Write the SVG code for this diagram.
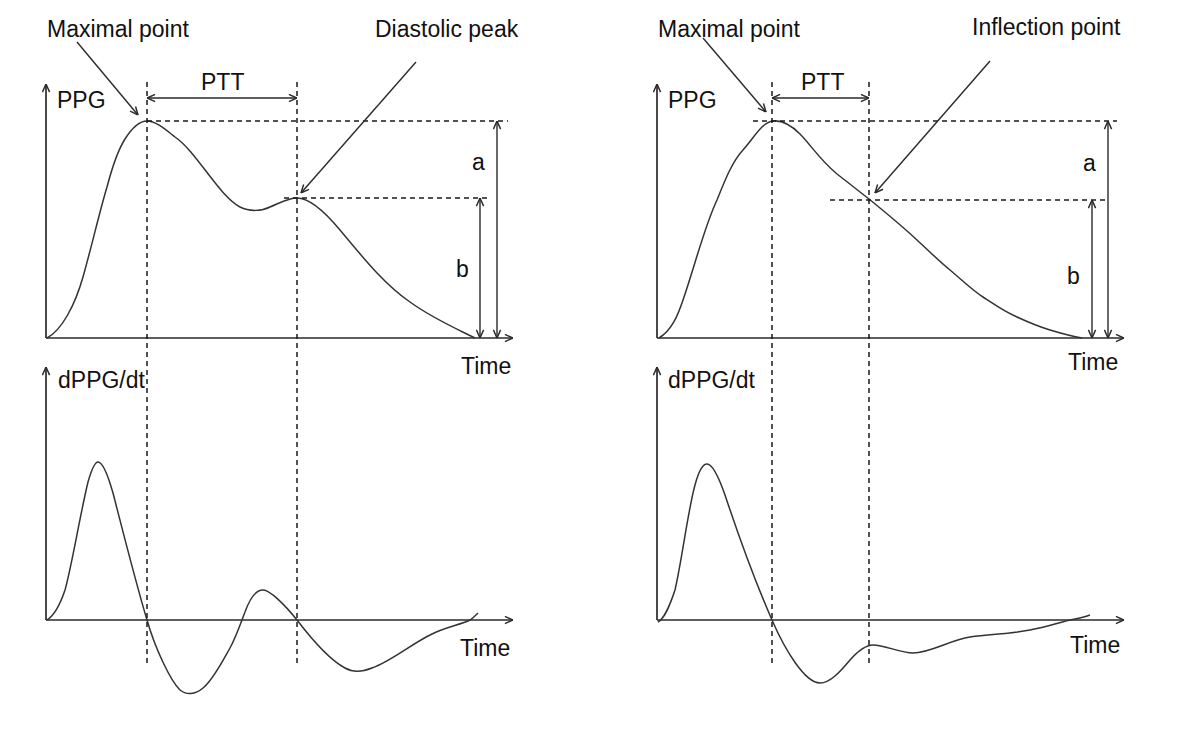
<svg xmlns="http://www.w3.org/2000/svg" width="1180" height="730" viewBox="0 0 1180 730">
<style>
text{font-family:"Liberation Sans",Arial,sans-serif;font-size:23px;fill:#111}
.ax{stroke:#2a2a2a;stroke-width:1.7;fill:none}
.dash{stroke:#1a1a1a;stroke-width:1.5;stroke-dasharray:5,4;fill:none}
.curve{stroke:#333;stroke-width:1.5;fill:none}
.arr{stroke:#2a2a2a;stroke-width:1.4;fill:none}
</style>
<defs>
<marker id="ah" viewBox="0 0 10 10" refX="10" refY="5" markerWidth="9" markerHeight="9" markerUnits="userSpaceOnUse" orient="auto-start-reverse">
<path d="M1,1 L10,5 L1,9" fill="none" stroke="#2a2a2a" stroke-width="1.6"/>
</marker>
</defs>
<rect width="1180" height="730" fill="#fff"/>

<g id="left-ppg">
<line class="ax" x1="46" y1="338" x2="46" y2="84" marker-end="url(#ah)"/>
<line class="ax" x1="46" y1="338" x2="513" y2="338" marker-end="url(#ah)"/>
<text x="57" y="108">PPG</text>
<text x="461" y="374">Time</text>
<path class="curve" d="M47,338 C62,330 75,305 83,277 C92,245 100,210 107,187 C112,168 118,150 125,139 C132,128 139,121 147,121 C156,121 166,130 175,137 C197,152 218,195 240,207 C250,212 262,211 270,207 C280,203 288,198 297,198 C310,198 325,212 340,230 C365,260 385,285 410,302 C432,318 455,328 475,338"/>
<line class="dash" x1="147" y1="121" x2="508" y2="121"/>
<line class="dash" x1="284" y1="198" x2="488" y2="198"/>
<text x="472" y="170">a</text>
<text x="456" y="277">b</text>
</g>

<g id="left-dppg">
<line class="ax" x1="46" y1="620" x2="46" y2="367" marker-end="url(#ah)"/>
<line class="ax" x1="46" y1="620" x2="513" y2="620" marker-end="url(#ah)"/>
<text x="58" y="388">dPPG/dt</text>
<text x="460" y="656">Time</text>
<path class="curve" d="M47,620 C55,615 60,605 65,590 C72,565 80,515 88,482 C92,468 95,462 98,462 C102,462 107,472 113,493 C120,520 135,580 147,620 C155,648 170,680 180,690 C186,695 195,695 203,688 C213,680 222,662 230,648 C236,637 240,625 245,612 C250,598 256,590 263,590 C270,590 285,605 297,620 C310,637 330,660 345,668 C352,672 362,672 372,668 C390,662 410,645 430,635 C445,627 460,625 470,620 C473,618 475,616 478,613"/>
</g>

<g id="left-annotations">
<line class="dash" x1="147" y1="82" x2="147" y2="666"/>
<line class="dash" x1="297" y1="82" x2="297" y2="666"/>
<line class="arr" x1="147" y1="98" x2="297" y2="98" marker-start="url(#ah)" marker-end="url(#ah)"/>
<text x="201" y="90">PTT</text>
<text x="47" y="37">Maximal point</text>
<text x="375" y="37">Diastolic peak</text>
</g>

<g id="right-ppg">
<line class="ax" x1="657" y1="338" x2="657" y2="84" marker-end="url(#ah)"/>
<line class="ax" x1="657" y1="338" x2="1124" y2="338" marker-end="url(#ah)"/>
<text x="668" y="108">PPG</text>
<text x="1068" y="370">Time</text>
<path class="curve" d="M659,338 C672,330 678,315 683,300 C695,265 705,225 717,200 C725,180 732,162 743,150 C754,138 762,122 773,121 C782,120 790,124 800,134 C810,144 820,160 837,174 C850,184 860,192 869,199 C885,212 902,226 917,240 C930,252 940,262 950,270 C962,280 972,290 983,297 C995,305 1005,312 1017,317 C1030,323 1040,327 1050,330 C1060,333 1070,336 1082,338"/>
<line class="dash" x1="753" y1="121" x2="1117" y2="121"/>
<line class="dash" x1="830" y1="200" x2="1105" y2="200"/>
<text x="1083" y="171">a</text>
<text x="1067" y="284">b</text>
</g>

<g id="right-dppg">
<line class="ax" x1="657" y1="620" x2="657" y2="367" marker-end="url(#ah)"/>
<line class="ax" x1="657" y1="620" x2="1124" y2="620" marker-end="url(#ah)"/>
<text x="668" y="388">dPPG/dt</text>
<text x="1070" y="653">Time</text>
<path class="curve" d="M658,622 C665,618 670,605 675,590 C682,560 688,510 695,485 C699,470 703,464 707,464 C712,464 718,475 725,495 C735,525 750,570 772,620 C785,650 805,683 820,683 C830,683 840,672 850,660 C858,651 865,645 873,645 C885,645 900,653 913,653 C930,653 950,640 970,637 C990,634 1010,634 1030,630 C1050,626 1060,622 1075,619 C1080,618 1085,617 1090,615"/>
</g>

<g id="right-annotations">
<line class="dash" x1="772" y1="82" x2="772" y2="666"/>
<line class="dash" x1="869" y1="82" x2="869" y2="666"/>
<line class="arr" x1="772" y1="98" x2="869" y2="98" marker-start="url(#ah)" marker-end="url(#ah)"/>
<text x="801" y="90">PTT</text>
<text x="658" y="37">Maximal point</text>
<text x="972" y="35">Inflection point</text>
</g>

<g id="connectors">
<line class="arr" x1="77" y1="42" x2="138" y2="115" marker-end="url(#ah)"/>
<line class="arr" x1="416" y1="62" x2="301" y2="193" marker-end="url(#ah)"/>
<line class="arr" x1="497" y1="121" x2="497" y2="338" marker-start="url(#ah)" marker-end="url(#ah)"/>
<line class="arr" x1="480" y1="198" x2="480" y2="338" marker-start="url(#ah)" marker-end="url(#ah)"/>
<line class="arr" x1="703" y1="38" x2="766" y2="112" marker-end="url(#ah)"/>
<line class="arr" x1="990" y1="61" x2="875" y2="193" marker-end="url(#ah)"/>
<line class="arr" x1="1108" y1="121" x2="1108" y2="338" marker-start="url(#ah)" marker-end="url(#ah)"/>
<line class="arr" x1="1092" y1="200" x2="1092" y2="338" marker-start="url(#ah)" marker-end="url(#ah)"/>
</g>
</svg>
